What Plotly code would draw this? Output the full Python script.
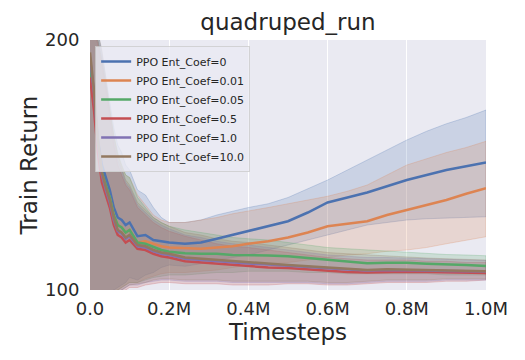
import plotly.graph_objects as go

steps = [0, 10000, 20000, 30000, 40000, 50000, 60000, 70000, 80000, 90000, 100000,
         120000, 140000, 160000, 180000, 200000, 240000, 280000, 320000, 360000, 400000,
         450000, 500000, 550000, 600000, 650000, 700000, 750000, 800000, 850000, 900000, 950000, 1000000]

labels = ["PPO Ent_Coef=0", "PPO Ent_Coef=0.01", "PPO Ent_Coef=0.05",
          "PPO Ent_Coef=0.5", "PPO Ent_Coef=1.0", "PPO Ent_Coef=10.0"]

mean_0 = [192, 178, 160, 150, 145, 140, 133, 129, 128, 126, 127, 121.5, 122, 120, 119.5, 119, 118.5, 119, 120.5, 122, 123.5,
          125.5, 127.5, 131, 135, 137, 139, 141.5, 144, 146, 148, 149.5, 151]
low_0 = [88, 88, 90, 94, 97, 99, 100, 101, 102, 103, 105, 104, 106, 107, 109, 110, 109.5, 110.5, 112, 113, 114,
         116, 118, 120, 122, 124, 126, 127, 128, 128.5, 129, 129, 129.3]
high_0 = [205, 205, 203, 195, 185, 175, 165, 158, 155, 150, 148, 140, 138, 133, 129, 127, 127, 128, 130, 131.5, 133,
          134.5, 137, 140.5, 144, 148, 152, 156, 160, 163.5, 166.5, 169, 172]

mean_001 = [188, 175, 158, 146, 141, 137, 130, 126, 125, 123, 124, 119, 119.5, 118.5, 117.5, 117, 116.8, 116.5, 117, 117.5, 118.5,
            119.5, 121, 123, 125.5, 126.5, 127.5, 130, 132, 134, 136, 138.5, 140.7]
low_001 = [86, 87, 89, 93, 96, 98, 99, 100, 101, 102, 103, 103, 104.5, 105.5, 106.5, 107, 107, 107.5, 108, 109, 110,
           110.5, 111, 112, 113, 114, 114.5, 115.5, 116, 117, 118.5, 120, 121.3]
high_001 = [205, 205, 200, 192, 183, 172, 162, 154, 150, 146, 145, 138, 134, 130, 128, 127, 127, 128, 129, 130.5, 131.5,
            133, 134.5, 136, 137.5, 139.5, 142, 146, 150, 152.5, 155, 157, 159.5]

mean_005 = [190, 176, 158, 147, 142, 137, 130, 126, 125, 123, 124, 119, 118.5, 117.3, 116, 115.3, 114.7, 114.5, 114.5, 114, 114,
            113.8, 113.5, 112.8, 111.8, 111.2, 110.7, 110.9, 110.9, 110.5, 110.4, 110, 109.6]
low_005 = [88, 88, 90, 93, 96, 98, 99, 100, 101, 102, 103, 103, 104, 105, 105.5, 106, 106, 106.5, 107, 107, 107.5,
           107.5, 107.5, 107, 107, 106.5, 106.5, 106.5, 106.5, 106.5, 106, 106, 106]
high_005 = [205, 205, 200, 192, 182, 172, 162, 155, 150, 146, 145, 137, 133, 129, 127, 125.5, 124, 123, 122, 121, 120.5,
            120, 119, 118, 117, 116.5, 116, 115.5, 115, 114.5, 114.2, 114, 113.7]

mean_05 = [185, 172, 155, 143, 138, 133, 126, 122, 121, 119, 120, 116.5, 116, 114.5, 113.5, 113, 111.5, 111, 110.5, 110, 109.8,
           109, 108.8, 108.3, 107.5, 107.2, 107, 107.2, 107.3, 107.2, 107, 106.9, 106.8]
low_05 = [85, 86, 88, 91, 94, 96, 97, 98, 99, 100, 101, 101, 102, 102.5, 103, 103, 102.5, 102.5, 102.5, 102, 102,
          102, 102.5, 102.5, 102, 102, 102.5, 103, 103, 103, 103.5, 103.5, 104]
high_05 = [205, 205, 198, 190, 180, 168, 158, 150, 146, 142, 140, 133, 130, 127, 125, 123.5, 121.5, 120, 118.5, 117.5, 117,
           116, 115, 114, 113, 112.5, 112, 112, 112, 111.5, 111.5, 111, 111]

mean_1 = [193, 179, 159, 146, 140, 135, 128, 123.5, 122.5, 120.5, 121.5, 117.5, 117, 115.5, 114.5, 114, 112.5, 112, 111.5, 111, 110.6,
          110.2, 109.8, 109.3, 108.7, 108.2, 107.8, 108, 108, 107.8, 107.6, 107.5, 107.4]
low_1 = [86, 87, 89, 92, 95, 97, 98, 99, 100, 101, 102, 102, 103, 103.5, 104, 104, 103.5, 103.5, 103.5, 103, 103,
         103, 103, 103, 102.5, 102.5, 103, 103.5, 103.5, 103.5, 104, 104, 104]
high_1 = [205, 205, 200, 193, 182, 170, 160, 152, 148, 143, 141, 134, 131, 128, 126, 124.5, 122, 121, 119.5, 118.5, 118,
          117, 116, 115, 114, 113.5, 113, 113, 112.8, 112.5, 112.2, 112, 111.8]

mean_10 = [195, 180, 160, 147, 141, 136, 129, 124, 123, 121, 122, 118, 117.5, 116, 115, 114.5, 113, 112.5, 112, 111.5, 111,
           110.5, 110, 109.5, 109, 108.5, 108, 108.3, 108.2, 108, 107.8, 107.6, 107.5]
low_10 = [87, 88, 90, 92, 95, 97, 98, 99, 100, 101, 102, 102.5, 103, 104, 104.5, 104.5, 104, 104, 104, 103.5, 103.5,
          103.5, 103.5, 103.5, 103, 103, 103.5, 104, 104, 104, 104.5, 104.5, 104.5]
high_10 = [205, 205, 203, 196, 185, 172, 162, 154, 149, 144, 142, 135, 132, 129, 127, 125.5, 123, 122, 120.5, 119.5, 119,
           118, 117, 116, 115, 114.5, 114, 113.5, 113.2, 112.8, 112.5, 112.2, 112]

xtick_vals = [0, 200000, 400000, 600000, 800000, 1000000]
xtick_text = ["0.0", "0.2M", "0.4M", "0.6M", "0.8M", "1.0M"]
ytick_vals = [100, 200]

# seaborn "deep" palette
colors = ["#4c72b0", "#dd8452", "#55a868", "#c44e52", "#8172b3", "#937860"]

def rgba(hex_color, a):
    h = hex_color.lstrip("#")
    return "rgba(%d,%d,%d,%s)" % (int(h[0:2], 16), int(h[2:4], 16), int(h[4:6], 16), a)

series = [(mean_0, low_0, high_0), (mean_001, low_001, high_001), (mean_005, low_005, high_005),
          (mean_05, low_05, high_05), (mean_1, low_1, high_1), (mean_10, low_10, high_10)]

fig = go.Figure()
# bands sit below all the lines, like matplotlib's zorder
for (m, lo, hi), c in zip(series, colors):
    fig.add_trace(go.Scatter(x=steps + steps[::-1], y=hi + lo[::-1], fill="toself",
                             fillcolor=rgba(c, 0.2), line=dict(color=rgba(c, 0.25), width=1),
                             hoverinfo="skip", showlegend=False))
for (m, lo, hi), name, c in zip(series, labels, colors):
    fig.add_trace(go.Scatter(x=steps, y=m, mode="lines", name=name,
                             line=dict(color=c, width=2.5)))

# page body has an 8px margin, so the figure is 8px smaller than the window
fig.update_layout(
    width=517, height=352,
    margin=dict(l=82, r=39, t=32, b=70),
    paper_bgcolor="white", plot_bgcolor="#eaeaf2",
    font=dict(family="DejaVu Sans", color="#262626"),
    title=dict(text="quadruped_run", x=0.5, xref="paper", y=0.96, yanchor="middle",
               font=dict(size=23, color="#262626")),
    legend=dict(x=0.013, y=0.976, xanchor="left", yanchor="top",
                bgcolor="rgba(234,234,242,0.8)", bordercolor="rgba(204,204,204,0.8)", borderwidth=1,
                font=dict(size=11, color="#262626"), tracegroupgap=0),
)
fig.update_xaxes(range=[0, 1000000], tickvals=xtick_vals, ticktext=xtick_text,
                 showgrid=True, gridcolor="white", gridwidth=1, zeroline=False, automargin=False,
                 ticks="outside", ticklen=2, tickcolor="rgba(0,0,0,0)",
                 tickfont=dict(size=18), title=dict(text="Timesteps", font=dict(size=23), standoff=0))
fig.update_yaxes(range=[100, 200], tickvals=ytick_vals,
                 showgrid=True, gridcolor="white", gridwidth=1, zeroline=False, automargin=False,
                 ticks="outside", ticklen=6, tickcolor="rgba(0,0,0,0)",
                 tickfont=dict(size=18), title=dict(text="Train Return", font=dict(size=23), standoff=0))

fig.write_html("out.html")
